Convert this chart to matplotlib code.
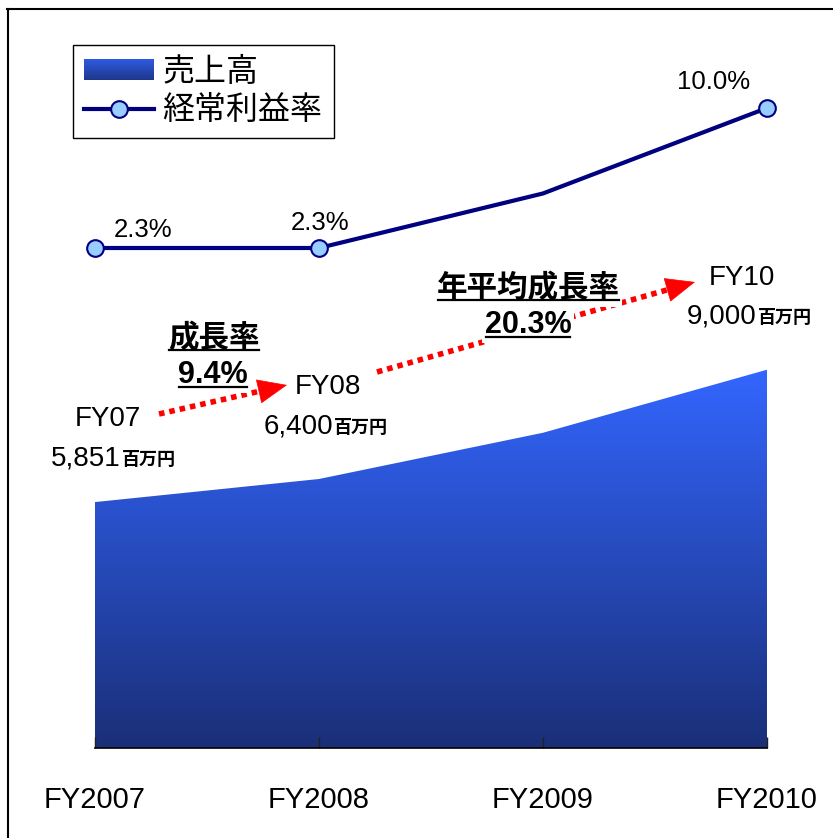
import numpy as np
import matplotlib.pyplot as plt
from matplotlib.colors import LinearSegmentedColormap
from matplotlib.legend_handler import HandlerBase
from matplotlib.lines import Line2D
from matplotlib.patches import Rectangle
from matplotlib.transforms import IdentityTransform

# data
years = ['FY2007', 'FY2008', 'FY2009', 'FY2010']
sales = [5851, 6400, 7500, 9000]          # 百万円
margin = [2.3, 2.3, 5.3, 10.0]            # 経常利益率 %
margin_labels = ['2.3%', '2.3%', '', '10.0%']
callout_names = ['FY07', 'FY08', '', 'FY10']
growth_titles = ['成長率', '年平均成長率']
growth_values = ['9.4%', '20.3%']

W, H = 833, 838
fig = plt.figure(figsize=(W / 100, H / 100), dpi=100)


def fx(px):
    return px / W


def fy(py):
    return 1 - py / H


NUM = ['Liberation Sans', 'DejaVu Sans']
JP = ['Noto Sans CJK JP', 'DejaVu Sans']
navy = '#000080'

cmap = LinearSegmentedColormap.from_list('blue', ['#1a2f78', '#3366ff'])

# area chart with vertical gradient
ax = fig.add_axes([fx(95), fy(748), fx(767) - fx(95), fy(28) - fy(748)])
x = np.arange(len(years))
poly = ax.fill_between(x, 0, sales, facecolor='none', edgecolor='none')
grad = np.linspace(0, 1, 256).reshape(-1, 1)
img = ax.imshow(grad, extent=[0, 3, 0, max(sales)], origin='lower',
                aspect='auto', cmap=cmap, zorder=1, interpolation='bilinear')
img.set_clip_path(poly.get_paths()[0], transform=ax.transData)
ax.set_xlim(0, 3)
ax.set_ylim(0, 17130)
ax.set_yticks([])
ax.set_xticks(x)
ax.set_xticklabels(years, family=NUM, fontsize=21)
ax.tick_params(axis='x', direction='in', length=8, width=1, pad=27, color='#222222')
for s in ['top', 'left', 'right']:
    ax.spines[s].set_visible(False)
ax.spines['bottom'].set_linewidth(1.2)
ax.patch.set_visible(False)

# margin line on twin axis
ax2 = ax.twinx()
ax2.set_ylim(-25.2, 14.4)
ax2.set_xlim(0, 3)
ax2.axis('off')
ax2.plot(x, margin, color=navy, lw=3, marker='o', markevery=[0, 1, 3],
         markersize=12, markerfacecolor='#99ccff', markeredgecolor=navy,
         markeredgewidth=1.5, solid_joinstyle='miter', clip_on=False, zorder=4)

# margin labels
lab_pos = [(143, 237), (320, 230), None, (714, 89)]
for lbl, p in zip(margin_labels, lab_pos):
    if p:
        fig.text(fx(p[0]), fy(p[1]), lbl, family=NUM, fontsize=18.5,
                 ha='center', va='baseline')

# sales callouts
name_pos = [(108, 426), (328, 394), None, (742, 285)]
val_pos = [(121, 465), (333, 433), None, (757, 323)]
for nm, v, npos, vpos in zip(callout_names, sales, name_pos, val_pos):
    if not npos:
        continue
    fig.text(fx(npos[0]), fy(npos[1]), nm, family=NUM, fontsize=20,
             ha='center', va='baseline')
    fig.text(fx(vpos[0]), fy(vpos[1]), f'{v:,}', family=NUM, fontsize=20,
             ha='right', va='baseline')
    fig.text(fx(vpos[0] + 1), fy(vpos[1]), '百万円', family=JP, fontsize=13,
             fontweight='bold', ha='left', va='baseline')

# red dotted arrows
arrows = [((159, 414), (287, 385)), ((377, 372), (695, 282))]
for (sx, sy), (tx, ty) in arrows:
    fig.add_artist(Line2D([fx(sx), fx(tx - 12)],
                          [fy(sy), fy(sy + (ty - sy) * (tx - 12 - sx) / (tx - sx))],
                          color='red', lw=4, linestyle=(0, (1, 0.9)),
                          solid_capstyle='butt', dash_capstyle='butt', zorder=3))
    ax.annotate('', xy=(tx, H - ty), xycoords='figure pixels',
                xytext=(tx - 22, H - (ty + (sy - ty) * 22 / (tx - sx))),
                textcoords='figure pixels',
                arrowprops=dict(arrowstyle='-|>,head_length=1.0,head_width=0.42',
                                mutation_scale=20, color='red', lw=0.5,
                                shrinkA=0, shrinkB=0), zorder=4)

# growth rate labels (underlined)
title_pos = [(214, 347), (528, 297)]
value_pos = [(213, 383), (528, 333)]
under = []
for t, v, tp, vp in zip(growth_titles, growth_values, title_pos, value_pos):
    t1 = fig.text(fx(tp[0]), fy(tp[1]), t, family=JP, fontsize=22,
                  fontweight='bold', ha='center', va='baseline', zorder=5,
                  bbox=dict(facecolor='white', edgecolor='none', pad=2))
    t2 = fig.text(fx(vp[0]), fy(vp[1]), v, family=NUM, fontsize=22,
                  fontweight='bold', ha='center', va='baseline', zorder=5,
                  bbox=dict(facecolor='white', edgecolor='none', pad=2))
    under.append((t1, tp[1] + 3))
    under.append((t2, vp[1] + 4))


# legend
class GradHandler(HandlerBase):
    def create_artists(self, legend, orig_handle, xdescent, ydescent,
                       width, height, fontsize, trans):
        n = 16
        arts = []
        for i in range(n):
            c = cmap(0.15 + 0.6 * i / (n - 1))
            r = Rectangle((-xdescent, -ydescent + height * i / n), width,
                          height / n + 0.3, facecolor=c, edgecolor='none',
                          transform=trans)
            arts.append(r)
        return arts


sales_handle = Rectangle((0, 0), 1, 1)
line_handle = Line2D([], [], color=navy, lw=3, marker='o', markersize=12,
                     markerfacecolor='#99ccff', markeredgecolor=navy,
                     markeredgewidth=1.5)
leg = ax2.legend([sales_handle, line_handle], ['売上高', '経常利益率'],
                 handler_map={Rectangle: GradHandler()},
                 loc='upper left', bbox_to_anchor=(fx(73), fy(45)),
                 bbox_transform=fig.transFigure, prop={'family': JP, 'size': 23},
                 frameon=True, fancybox=False, edgecolor='black', framealpha=1,
                 borderaxespad=0, borderpad=0.35, labelspacing=0.2,
                 handlelength=2.2, handleheight=0.6, handletextpad=0.25)
leg.get_frame().set_linewidth(1)

# outer frame lines
fig.add_artist(Line2D([fx(7), 1], [fy(9), fy(9)], color='black', lw=1.5))
fig.add_artist(Line2D([fx(8), fx(8)], [fy(9), 0], color='black', lw=1.5))

# underline growth labels
fig.canvas.draw()
r = fig.canvas.get_renderer()
for t, uy in under:
    bb = t.get_window_extent(r)
    fig.add_artist(Line2D([bb.x0 + 1, bb.x1 - 1], [H - uy, H - uy],
                          transform=IdentityTransform(), color='black',
                          lw=1.6, zorder=6))

fig.savefig('out.png', dpi=100)
